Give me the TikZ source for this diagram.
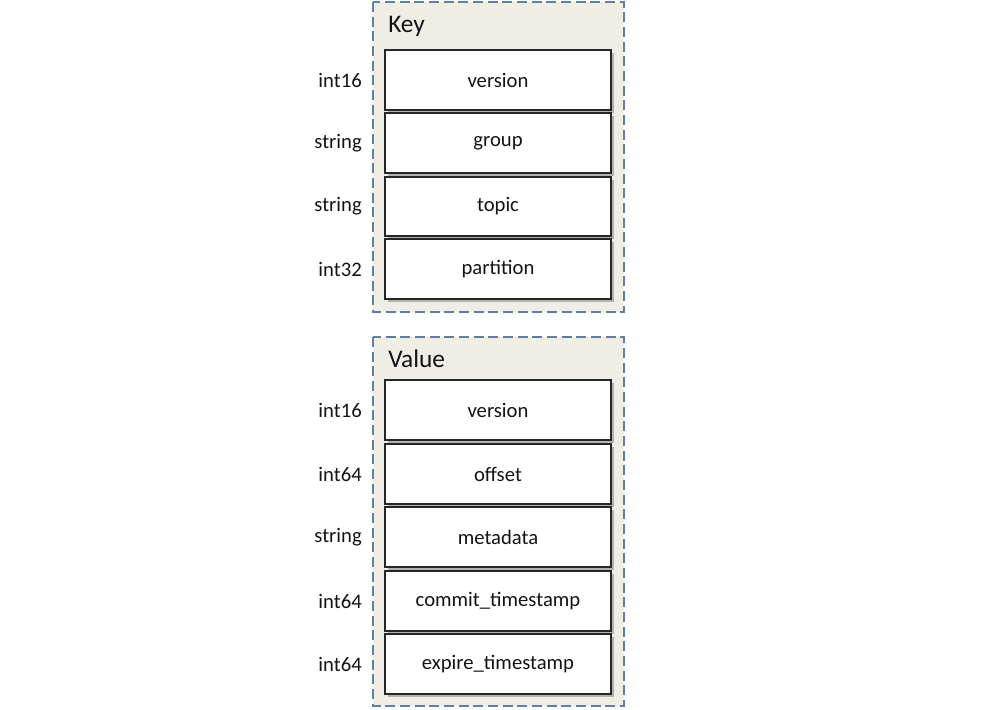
\documentclass[tikz,border=0pt]{standalone}
\usepackage{fontspec}
\setmainfont{Carlito}
\usetikzlibrary{shadows}
\definecolor{cfill}{HTML}{EFEDE4}
\definecolor{cborder}{HTML}{5F7FA8}
\tikzset{
  container/.style={draw=cborder, line width=1.1pt, dash pattern=on 7.5pt off 3.5pt, fill=cfill},
  field/.style={draw=black!85, line width=1pt, fill=white, drop shadow={shadow xshift=2pt, shadow yshift=-2pt, fill=black!45, opacity=0.6}},
  fieldtext/.style={font=\fontsize{15.5}{18}\selectfont, text=black!92},
  typelabel/.style={font=\fontsize{15.5}{18}\selectfont, anchor=east, inner sep=0pt, text=black!92},
  title/.style={font=\fontsize{19}{22}\selectfont, anchor=base west, inner sep=0pt, text=black!92}
}
\begin{document}
\begin{tikzpicture}[x=0.75pt,y=-0.75pt]
\useasboundingbox (0,0) rectangle (983,710);
\draw[container] (373,2) rectangle (624,312);
\node[title] (keyt) at (388,33) {Key};
\draw[container] (373,337) rectangle (624,706);
\node[title] (valt) at (388,367) {Value};
\foreach \n/\t/\b/\lab/\ty in {k1/50/110/version/int16, k2/113/173/group/string, k3/177/236/topic/string, k4/239/299/partition/int32,
  v1/380/440/version/int16, v2/444/504/offset/int64, v3/507/567/metadata/string, v4/571/631/commit\_timestamp/int64, v5/634/694/expire\_timestamp/int64}{
  \path[field] (385,\t) rectangle (611,\b);
  \node[fieldtext] (\n) at (498,{(\t+\b)/2}) {\lab};
  \node[typelabel] (\n t) at (362,{(\t+\b)/2}) {\ty};
}
\end{tikzpicture}
\end{document}
